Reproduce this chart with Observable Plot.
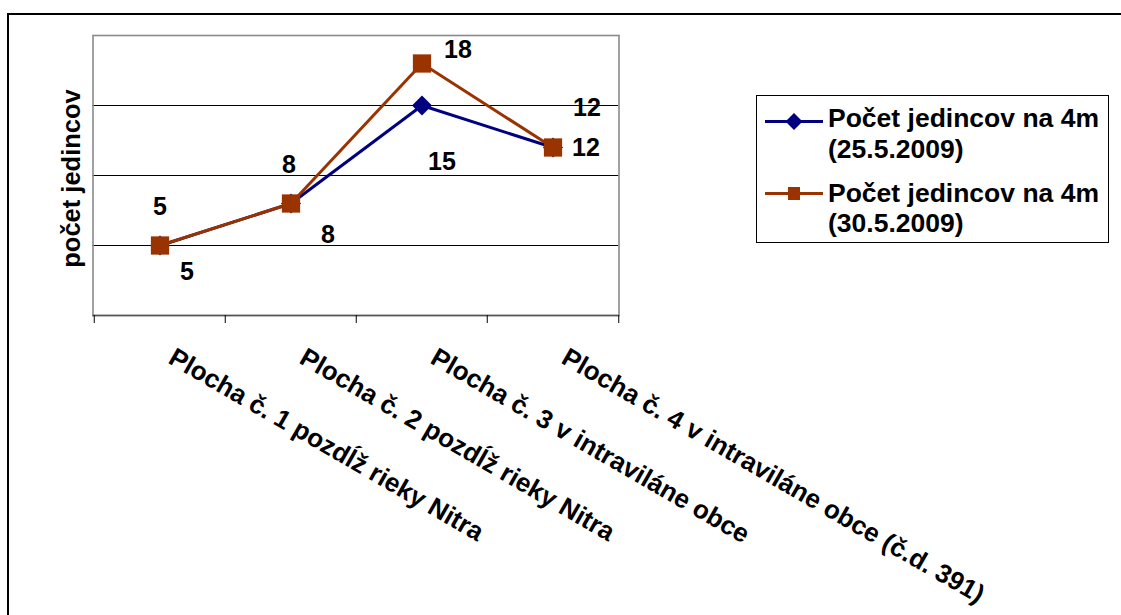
<!DOCTYPE html>
<html><head><meta charset="utf-8">
<script src="https://cdn.jsdelivr.net/npm/d3@7"></script>
<script src="https://cdn.jsdelivr.net/npm/@observablehq/plot@0.6"></script>
<style>
body{margin:0;background:#fff;font-family:"Liberation Sans",Arial,sans-serif;}
#wrap{position:relative;width:1121px;height:615px;overflow:hidden;background:#fff;}
#chart{position:absolute;left:0;top:0;}
#border{position:absolute;left:7px;top:12.5px;width:1300px;height:800px;border-top:2.5px solid #000;border-left:2.5px solid #000;}
#legend{position:absolute;left:0;top:0;}
</style></head><body>
<div id="wrap"><div id="chart"></div><div id="border"></div><svg id="legend" width="1121" height="615"></svg></div>
<script>
// ---- data ----
const categories = [
  "Plocha č. 1 pozdĺž rieky Nitra",
  "Plocha č. 2 pozdĺž rieky Nitra",
  "Plocha č. 3 v intraviláne obce",
  "Plocha č. 4 v intraviláne obce (č.d. 391)"
];
const seriesNames = ["Počet jedincov na 4m (25.5.2009)", "Počet jedincov na 4m (30.5.2009)"];
const legendLine1 = ["Počet jedincov na 4m", "Počet jedincov na 4m"];
const legendLine2 = ["(25.5.2009)", "(30.5.2009)"];
const series1 = [5, 8, 15, 12];
const series2 = [5, 8, 18, 12];
const gridValues = [5, 10, 15];
const yDomain = [0, 20];
const yLabel = "počet jedincov";

// ---- layout / style ----
const navy = "#000080", brown = "#993300";
const FONT = "Liberation Sans, Arial, sans-serif";
const mL = 92.5, mR = 1121 - 618.5, mT = 35, mB = 615 - 315;
const bw = (618.5 - 92.5) / categories.length;
const off1 = [[27, 26], [37, 31], [20, 56], [33, 0]];
const off2 = [[0, -39], [-2, -39], [36, -14], [34, -40]];

const d1 = categories.map((c, i) => ({cat: c, value: series1[i], series: seriesNames[0]}));
const d2 = categories.map((c, i) => ({cat: c, value: series2[i], series: seriesNames[1]}));

const labelMarks = [];
d1.forEach((d, i) => labelMarks.push(Plot.text([d], {x: "cat", y: "value", text: d => String(d.value), dx: off1[i][0], dy: off1[i][1], fontSize: 25, fontWeight: "bold", fill: "#000", lineAnchor: "middle"})));
d2.forEach((d, i) => labelMarks.push(Plot.text([d], {x: "cat", y: "value", text: d => String(d.value), dx: off2[i][0], dy: off2[i][1], fontSize: 25, fontWeight: "bold", fill: "#000", lineAnchor: "middle"})));

const chart = Plot.plot({
  width: 1121, height: 615,
  marginLeft: mL, marginRight: mR, marginTop: mT, marginBottom: mB,
  style: {fontFamily: FONT, background: "transparent", color: "#000", overflow: "visible"},
  x: {type: "band", domain: categories, padding: 0, axis: null},
  y: {domain: yDomain, axis: null},
  marks: [
    Plot.ruleY(gridValues, {stroke: "#000", strokeWidth: 1}),
    Plot.frame({stroke: "#8a8a8a", strokeWidth: 1.6}),
    Plot.ruleY([0], {stroke: "#555", strokeWidth: 1.6}),
    Plot.ruleX(categories, {x: d => d, dx: -bw / 2, y1: 0, y2: 0, insetBottom: -8, stroke: "#000", strokeWidth: 1}),
    Plot.ruleX([categories[categories.length - 1]], {x: d => d, dx: bw / 2, y1: 0, y2: 0, insetBottom: -8, stroke: "#000", strokeWidth: 1}),
    Plot.line(d1, {x: "cat", y: "value", stroke: navy, strokeWidth: 3}),
    Plot.dot(d1, {x: "cat", y: "value", symbol: "square", rotate: 45, r: 8, fill: navy, stroke: "none"}),
    Plot.line(d2, {x: "cat", y: "value", stroke: brown, strokeWidth: 3}),
    Plot.dot(d2, {x: "cat", y: "value", symbol: "square", r: 10.3, fill: brown, stroke: "none"}),
    ...labelMarks,
    Plot.text(categories, {x: d => d, frameAnchor: "bottom", dx: 7, dy: 47, rotate: 30, textAnchor: "start", lineAnchor: "bottom", fontSize: 26, fontWeight: "bold", fill: "#000"}),
    Plot.text([yLabel], {frameAnchor: "left", dx: -21.5, dy: 3, rotate: -90, textAnchor: "middle", fontSize: 25.5, fontWeight: "bold", fill: "#000", lineAnchor: "middle"})
  ]
});
document.getElementById("chart").appendChild(chart);

// ---- legend ----
const lg = d3.select("#legend").style("font-family", FONT);
lg.append("rect").attr("x", 756.5).attr("y", 95.5).attr("width", 352).attr("height", 147)
  .attr("fill", "#fff").attr("stroke", "#000").attr("stroke-width", 1);
const entries = [
  {color: navy, y: 121.5, b1: 126.5, b2: 158, shape: "diamond"},
  {color: brown, y: 193.5, b1: 201.5, b2: 232, shape: "square"}
];
entries.forEach((e, i) => {
  lg.append("line").attr("x1", 765).attr("x2", 823).attr("y1", e.y).attr("y2", e.y)
    .attr("stroke", e.color).attr("stroke-width", 3);
  if (e.shape === "diamond") {
    lg.append("path").attr("d", `M794,${e.y - 8.5}L802.5,${e.y}L794,${e.y + 8.5}L785.5,${e.y}Z`).attr("fill", e.color);
  } else {
    lg.append("rect").attr("x", 788).attr("y", e.y - 6.5).attr("width", 12).attr("height", 13).attr("fill", e.color);
  }
  lg.append("text").attr("x", 828).attr("y", e.b1).attr("font-size", 26.5).attr("font-weight", "bold").text(legendLine1[i]);
  lg.append("text").attr("x", 828).attr("y", e.b2).attr("font-size", 26.5).attr("font-weight", "bold").text(legendLine2[i]);
});
</script>
</body></html>
